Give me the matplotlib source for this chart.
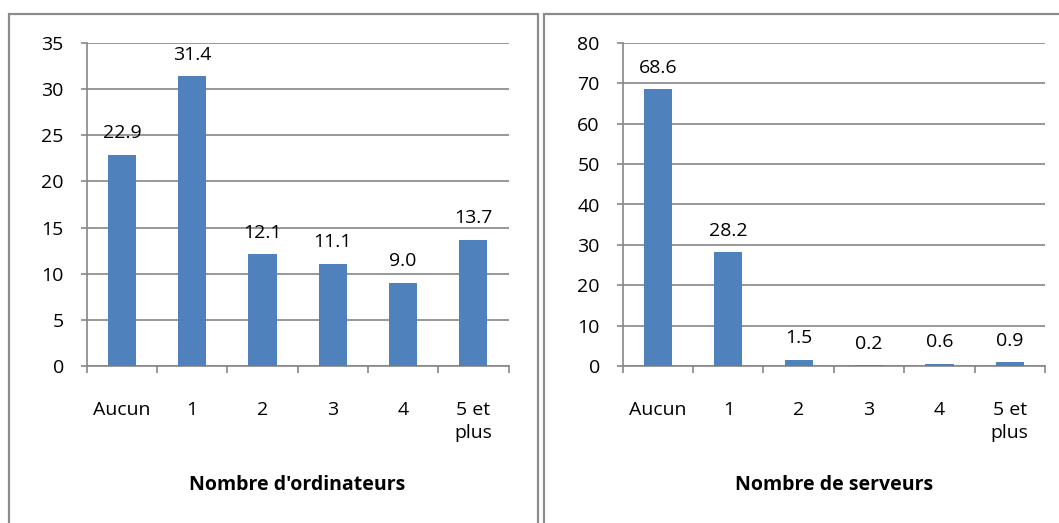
import matplotlib
matplotlib.use("Agg")
import matplotlib.pyplot as plt
from matplotlib.patches import Rectangle
import numpy as np

categories = ["Aucun", "1", "2", "3", "4", "5 et\nplus"]
ordinateurs = [22.9, 31.4, 12.1, 11.1, 9.0, 13.7]
serveurs = [68.6, 28.2, 1.5, 0.2, 0.6, 0.9]
title_left = "Nombre d'ordinateurs"
title_right = "Nombre de serveurs"
ymax_left, ystep_left = 35, 5
ymax_right, ystep_right = 80, 10

W, H = 1059, 523
plt.rcParams['font.family'] = ['Open Sans', 'DejaVu Sans']
fig = plt.figure(figsize=(W / 100, H / 100), dpi=100)

BAR = '#4F81BD'
GRID = '#868686'
FRAME = '#8C8C8C'
FS = 14


def px_ax(x0, x1, y0, y1):
    return [x0 / W, 1 - y1 / H, (x1 - x0) / W, (y1 - y0) / H]


def draw(ax, vals, ymax, ystep, title, cx):
    x = np.arange(len(vals))
    ax.bar(x, vals, width=0.4, color=BAR, zorder=3)
    ax.set_xlim(-0.5, len(vals) - 0.5)
    ax.set_ylim(0, ymax)
    ax.set_yticks(np.arange(0, ymax + 0.01, ystep))
    ax.yaxis.grid(True, color=GRID, linewidth=1.2, zorder=0)
    ax.set_axisbelow(True)
    for s in ['top', 'right']:
        ax.spines[s].set_visible(False)
    for s in ['left', 'bottom']:
        ax.spines[s].set_color(GRID)
        ax.spines[s].set_linewidth(1.2)
    ax.tick_params(axis='y', length=4.5, width=1.2, color=GRID, pad=12, labelsize=FS)
    ax.set_xticks(x)
    ax.set_xticklabels(categories, fontsize=FS, linespacing=1.4, va='top')
    ax.tick_params(axis='x', which='major', length=0, pad=25)
    ax.set_xticks(np.arange(-0.5, len(vals), 1.0), minor=True)
    ax.tick_params(axis='x', which='minor', length=5, width=1.2, color=GRID)
    for xi, v in zip(x, vals):
        ax.annotate(f"{v:.1f}", (xi, v), xytext=(0, 9), textcoords='offset points',
                    ha='center', va='bottom', fontsize=FS)
    fig.text(cx / W, 1 - 490 / H, title, ha='center', va='baseline',
             fontsize=FS, fontweight='bold')


ax1 = fig.add_axes(px_ax(86.7, 508.5, 43, 366))
draw(ax1, ordinateurs, ymax_left, ystep_left, title_left, 297.6)
ax2 = fig.add_axes(px_ax(622.7, 1045, 43, 366))
draw(ax2, serveurs, ymax_right, ystep_right, title_right, 834)

# panel frames
fig.add_artist(Rectangle((9 / W, -0.2), (537.7 - 9) / W, 1.2 - 14 / H,
                         transform=fig.transFigure, fill=False, edgecolor=FRAME, linewidth=1.6))
fig.add_artist(Rectangle((544 / W, -0.2), 0.6, 1.2 - 14 / H,
                         transform=fig.transFigure, fill=False, edgecolor=FRAME, linewidth=1.6))

fig.savefig("out.png", dpi=100)
